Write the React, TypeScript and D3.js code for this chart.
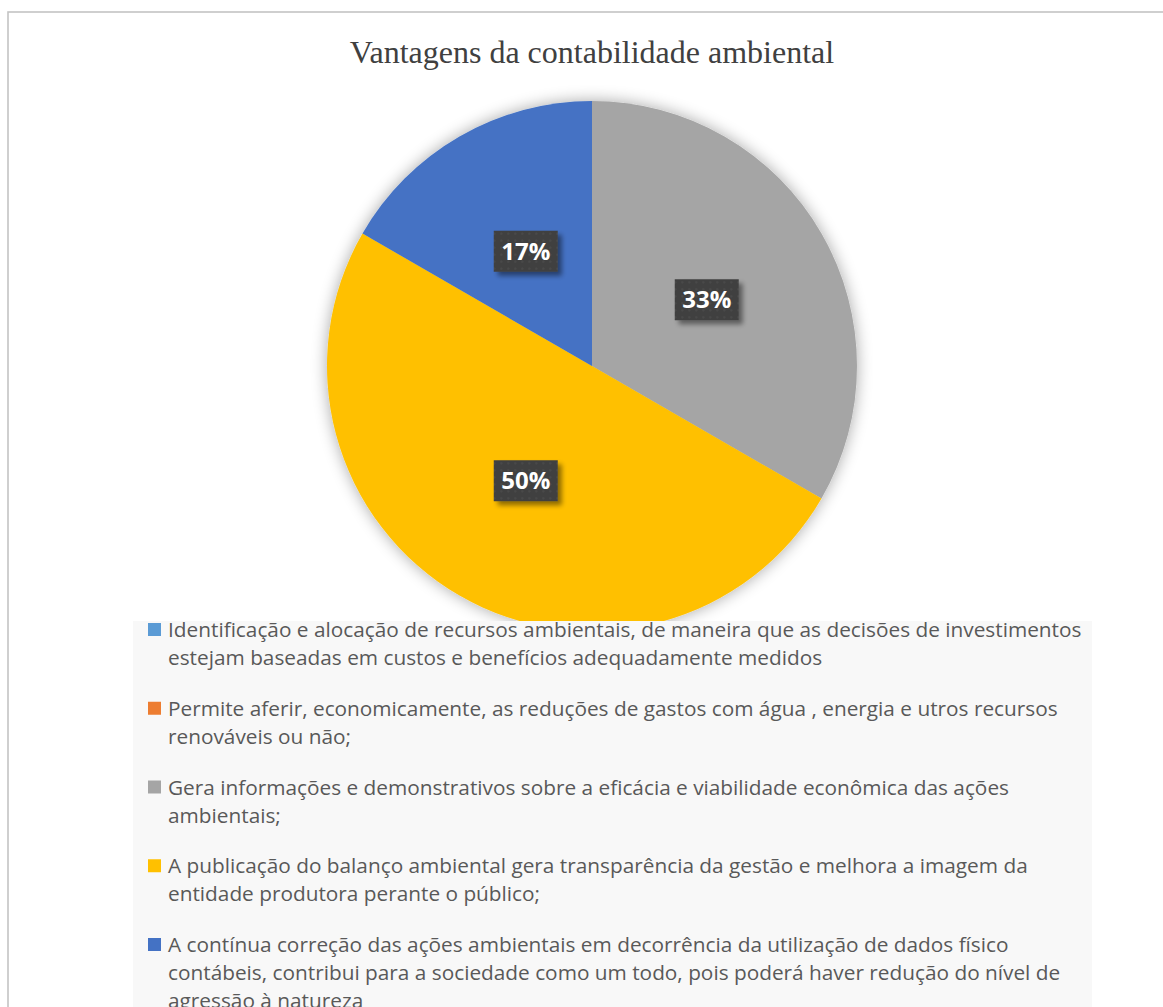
import React from 'react';
import * as d3 from 'd3';

const title = 'Vantagens da contabilidade ambiental';

const categories = [
  'Identificação e alocação de recursos ambientais, de maneira que as decisões de investimentos\nestejam baseadas em custos e benefícios adequadamente medidos',
  'Permite aferir, economicamente, as reduções de gastos com água , energia e utros recursos\nrenováveis ou não;',
  'Gera informações e demonstrativos sobre a eficácia e viabilidade econômica das ações\nambientais;',
  'A publicação do balanço ambiental gera transparência da gestão e melhora a imagem da\nentidade produtora perante o público;',
  'A contínua correção das ações ambientais em decorrência da utilização de dados físico\ncontábeis, contribui para a sociedade como um todo, pois poderá haver redução do nível de\nagressão à natureza',
];

const values = [0, 0, 2, 3, 1];

const colors = ['#5B9BD5', '#ED7D31', '#A5A5A5', '#FFC000', '#4472C4'];

export default function App() {
  const W = 1163;
  const H = 1007;
  const cx = 592;
  const cy = 366;
  const r = 265;

  const pie = d3
    .pie<number>()
    .sort(null)
    .value((d) => d)
    .startAngle(0)
    .endAngle(2 * Math.PI);
  const arcs = pie(values);
  const arc = d3.arc<d3.PieArcDatum<number>>().innerRadius(0).outerRadius(r);
  const total = d3.sum(values);

  const legendX = 133;
  const legendY = 621;
  const legendW = 959;
  const itemY0 = 637;
  const itemStep = 78.75;
  const lineH = 28;

  const boxW = 64;
  const boxH = 41;

  return (
    <div style={{ position: 'absolute', left: 0, top: 0 }}>
      <svg width={W} height={H} style={{ display: 'block' }}>
        <defs>
          <filter id="pieShadow" x="-20%" y="-20%" width="140%" height="140%">
            <feGaussianBlur in="SourceAlpha" stdDeviation="8" result="blur" />
            <feOffset in="blur" dx="0" dy="0" result="off" />
            <feComponentTransfer in="off" result="shadow">
              <feFuncA type="linear" slope="0.35" />
            </feComponentTransfer>
            <feMerge>
              <feMergeNode in="shadow" />
              <feMergeNode in="SourceGraphic" />
            </feMerge>
          </filter>
          <filter id="boxShadow" x="-30%" y="-30%" width="170%" height="170%">
            <feGaussianBlur in="SourceAlpha" stdDeviation="2.5" result="blur" />
            <feOffset in="blur" dx="4" dy="4" result="off" />
            <feComponentTransfer in="off" result="shadow">
              <feFuncA type="linear" slope="0.45" />
            </feComponentTransfer>
            <feMerge>
              <feMergeNode in="shadow" />
              <feMergeNode in="SourceGraphic" />
            </feMerge>
          </filter>
          <pattern id="dots" width="7" height="7" patternUnits="userSpaceOnUse">
            <rect width="7" height="7" fill="#404040" />
            <circle cx="3.5" cy="3.5" r="1.1" fill="#4d4d4d" />
          </pattern>
        </defs>

        <rect x={0} y={0} width={W} height={H} fill="#ffffff" />
        <rect
          x={8}
          y={12}
          width={W + 100}
          height={H + 100}
          fill="#ffffff"
          stroke="#c4c4c4"
          strokeWidth={1.6}
        />

        <text
          x={cx}
          y={63}
          textAnchor="middle"
          fontFamily="'Liberation Serif', 'Times New Roman', serif"
          fontSize={32}
          fill="#404040"
        >
          {title}
        </text>

        <g transform={`translate(${cx},${cy})`} filter="url(#pieShadow)">
          {arcs.map((a, i) =>
            a.value > 0 ? <path key={i} d={arc(a) || ''} fill={colors[i]} /> : null
          )}
        </g>

        <g transform={`translate(${cx},${cy})`}>
          {arcs.map((a, i) => {
            if (a.value <= 0) return null;
            const [lx, ly] = arc.centroid(a);
            const pct = Math.round((a.value / total) * 100) + '%';
            return (
              <g key={i} transform={`translate(${lx},${ly})`}>
                <rect
                  x={-boxW / 2}
                  y={-boxH / 2}
                  width={boxW}
                  height={boxH}
                  fill="url(#dots)"
                  filter="url(#boxShadow)"
                />
                <text
                  x={0}
                  y={8.5}
                  textAnchor="middle"
                  fontFamily="'Open Sans', sans-serif"
                  fontWeight="bold"
                  fontSize={24}
                  fill="#ffffff"
                >
                  {pct}
                </text>
              </g>
            );
          })}
        </g>

        <rect x={legendX} y={legendY} width={legendW} height={H - legendY + 10} fill="#f8f8f8" />
        {categories.map((c, i) => {
          const y = itemY0 + i * itemStep;
          const lines = c.split('\n');
          return (
            <g key={i}>
              <rect x={148} y={y - 14} width={13} height={13} fill={colors[i]} />
              <text
                x={168}
                y={y}
                fontFamily="'Open Sans', sans-serif"
                fontSize={20.8}
                fill="#595959"
              >
                {lines.map((ln, j) => (
                  <tspan key={j} x={168} y={y + j * lineH}>
                    {ln}
                  </tspan>
                ))}
              </text>
            </g>
          );
        })}
      </svg>
    </div>
  );
}
